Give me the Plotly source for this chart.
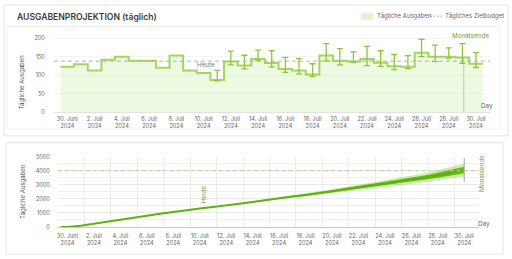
import plotly.graph_objects as go

# ---------------- data ----------------
days = list(range(31))  # 0 = 30. Juni ... 30 = 30. Juli
tick_days = list(range(0, 31, 2))
tick_labels = ["30. Juni<br>2024", "2. Juli<br>2024", "4. Juli<br>2024", "6. Juli<br>2024",
               "8. Juli<br>2024", "10. Juli<br>2024", "12. Juli<br>2024", "14. Juli<br>2024",
               "16. Juli<br>2024", "18. Juli<br>2024", "20. Juli<br>2024", "22. Juli<br>2024",
               "24. Juli<br>2024", "26. Juli<br>2024", "28. Juli<br>2024", "30. Juli<br>2024"]

daily = [123, 130, 113, 142, 150, 139, 139, 120, 153, 113, 106, 87, 137, 126, 144, 133,
         117, 113, 102, 153, 139, 137, 144, 134, 124, 123, 161, 150, 150, 148, 131]

err_start = 11
err_hi = [113, 165, 154, 168, 166, 148, 145, 131, 185, 172, 163, 178, 166, 156, 153,
          197, 181, 174, 185, 161]
err_lo = [85, 128, 117, 140, 122, 108, 104, 97, 139, 128, 135, 126, 124, 115, 118,
          150, 137, 146, 132, 121]

daily_target = 138
month_target = 4000

cumulative = [0, 90, 240, 370, 510, 660, 800, 940, 1060, 1210, 1320, 1420, 1510, 1650,
              1780, 1920, 2050, 2170, 2280, 2390, 2540, 2680, 2820, 2960, 3090, 3220,
              3340, 3500, 3680, 3870, 4050]
band_start = 11
outer_half = [0, 10, 25, 40, 55, 70, 90, 110, 130, 150, 170, 190, 215, 240, 265, 290,
              320, 360, 410, 460]
inner_half = [0, 5, 12, 20, 28, 36, 45, 55, 65, 75, 85, 95, 108, 120, 132, 145, 160,
              180, 205, 230]
end_err_plus = 880
end_err_minus = 860

today_day = 10.2
month_end_day = 29.1

W, H = 512, 259
def px(x): return x / W
def py(y): return 1 - y / H

FONT = "Inter, Roboto, sans-serif"
GREEN_LINE = "#a3d65f"
GREEN_ERR = "#8cc63f"
GREEN_TXT = "#6e9e30"

fig = go.Figure()

# ---------------- top chart ----------------
step_x = [d - 0.5 for d in days] + [days[-1] + 0.5]
step_y = daily + [daily[-1]]
fig.add_trace(go.Scatter(x=[month_end_day, month_end_day], y=[0, daily[29]],
                         mode="lines", line=dict(color="#c4c4c4", width=1),
                         xaxis="x", yaxis="y", showlegend=False, hoverinfo="skip"))
fig.add_trace(go.Scatter(x=step_x, y=step_y, mode="lines", line_shape="hv",
                         line=dict(color=GREEN_LINE, width=2),
                         fill="tozeroy", fillcolor="rgba(170,225,110,0.2)",
                         xaxis="x", yaxis="y", showlegend=False))
ex = days[err_start:]
ey = daily[err_start:]
fig.add_trace(go.Scatter(x=ex, y=ey, mode="markers", marker=dict(size=1, opacity=0),
                         error_y=dict(type="data", symmetric=False,
                                      array=[h - v for h, v in zip(err_hi, ey)],
                                      arrayminus=[v - l for v, l in zip(ey, err_lo)],
                                      color=GREEN_ERR, thickness=1.3, width=3),
                         xaxis="x", yaxis="y", showlegend=False))

# ---------------- bottom chart ----------------
bx = days[band_start:]
bmid = cumulative[band_start:]
fig.add_trace(go.Scatter(x=bx, y=[m - w for m, w in zip(bmid, outer_half)], mode="lines",
                         line=dict(width=0), xaxis="x2", yaxis="y2", showlegend=False))
fig.add_trace(go.Scatter(x=bx, y=[m + w for m, w in zip(bmid, outer_half)], mode="lines",
                         line=dict(width=0), fill="tonexty",
                         fillcolor="rgba(140,215,60,0.45)",
                         xaxis="x2", yaxis="y2", showlegend=False))
fig.add_trace(go.Scatter(x=bx, y=[m - w for m, w in zip(bmid, inner_half)], mode="lines",
                         line=dict(width=0), xaxis="x2", yaxis="y2", showlegend=False))
fig.add_trace(go.Scatter(x=bx, y=[m + w for m, w in zip(bmid, inner_half)], mode="lines",
                         line=dict(width=0), fill="tonexty",
                         fillcolor="rgba(85,175,0,0.85)",
                         xaxis="x2", yaxis="y2", showlegend=False))
fig.add_trace(go.Scatter(x=[-0.5] + days, y=[0] + cumulative, mode="lines",
                         line=dict(color="#5fb010", width=2),
                         xaxis="x2", yaxis="y2", showlegend=False))
fig.add_trace(go.Scatter(x=[days[-1]], y=[cumulative[-1]], mode="markers",
                         marker=dict(size=1, opacity=0),
                         error_y=dict(type="data", symmetric=False, array=[end_err_plus],
                                      arrayminus=[end_err_minus], color="#b5b5b5",
                                      thickness=1.2, width=0),
                         xaxis="x2", yaxis="y2", showlegend=False))

axis_font = dict(family=FONT, size=5.6, color="#666")

fig.update_layout(
    width=W, height=H, margin=dict(l=0, r=0, t=0, b=0),
    paper_bgcolor="white", plot_bgcolor="rgba(0,0,0,0)",
    font=dict(family=FONT),
    showlegend=False,
    xaxis=dict(domain=[px(53), px(490)], range=[-0.99, 31.03], anchor="y",
               tickmode="array", tickvals=tick_days, ticktext=tick_labels, tickangle=0,
               tickfont=axis_font, showgrid=False, zeroline=False,
               showline=True, linecolor="#e2e2e2", ticks="", ticklabelstandoff=1),
    yaxis=dict(domain=[py(112), py(28)], range=[0, 221], dtick=50, anchor="x",
               tickfont=axis_font, showgrid=True, gridcolor="#f4f4f4", zeroline=False,
               showline=False, ticks="", ticklabelstandoff=8),
    xaxis2=dict(domain=[px(57), px(479)], range=[-0.72, 31.12], anchor="y2",
                tickmode="array", tickvals=tick_days, ticktext=tick_labels, tickangle=0,
                tickfont=axis_font, showgrid=False, zeroline=False,
                minor=dict(tick0=-0.72, dtick=2, showgrid=True, gridcolor="#ebebeb",
                           gridwidth=1),
                showline=True, linecolor="#c8c8c8", ticks="", ticklabelstandoff=3),
    yaxis2=dict(domain=[py(229.3), py(157.3)], range=[0, 5000], dtick=1000, anchor="x2",
                tickfont=axis_font, showgrid=True, gridcolor="#e8e8e8", zeroline=False,
                minor=dict(dtick=500, showgrid=True, gridcolor="#f0f0f0"),
                showline=False, ticks="", ticklabelstandoff=7),
)

shapes = [
    # cards
    dict(type="rect", xref="paper", yref="paper", x0=px(3), x1=px(508), y0=py(136), y1=py(2),
         line=dict(color="#e4e4e4", width=1), layer="below"),
    dict(type="rect", xref="paper", yref="paper", x0=px(6), x1=px(500), y0=py(129), y1=py(24),
         line=dict(color="#eeeeee", width=1), layer="below"),
    dict(type="rect", xref="paper", yref="paper", x0=px(5), x1=px(503), y0=py(257), y1=py(143),
         line=dict(color="#e4e4e4", width=1), layer="below"),
    # target lines
    dict(type="line", xref="x domain", yref="y", x0=0, x1=1, y0=daily_target, y1=daily_target,
         line=dict(color="#a9b98f", width=1, dash="4px,3px")),
    dict(type="line", xref="x2 domain", yref="y2", x0=0, x1=1, y0=month_target, y1=month_target,
         line=dict(color="#b7cc98", width=1, dash="4px,3px")),
    # legend swatches
    dict(type="rect", xref="paper", yref="paper", x0=px(361), x1=px(373), y0=py(17), y1=py(10),
         fillcolor="rgba(170,225,110,0.35)", line=dict(width=0)),
    dict(type="line", xref="paper", yref="paper", x0=px(430), x1=px(442), y0=py(13.5), y1=py(13.5),
         line=dict(color="#a9b98f", width=1, dash="2px,1.5px")),
]
fig.update_layout(shapes=shapes)

small = dict(family=FONT, size=6, color="#666")
ann = [
    dict(text="AUSGABENPROJEKTION (täglich)", xref="paper", yref="paper", x=px(14), y=py(14),
         xanchor="left", yanchor="middle", showarrow=False,
         font=dict(family=FONT, size=8.6, color="#3a3a3a", weight=600)),
    dict(text="Tägliche Ausgaben", xref="paper", yref="paper", x=px(375), y=py(13.5),
         xanchor="left", yanchor="middle", showarrow=False, font=small),
    dict(text="Tägliches Zielbudget", xref="paper", yref="paper", x=px(443), y=py(13.5),
         xanchor="left", yanchor="middle", showarrow=False, font=small),
    dict(text="Tägliche Ausgaben", xref="paper", yref="paper", x=px(21.5), y=py(81),
         textangle=-90, showarrow=False, xanchor="center", yanchor="middle",
         font=dict(family=FONT, size=6, color="#555")),
    dict(text="Tägliche Ausgaben", xref="paper", yref="paper", x=px(21.5), y=py(193),
         textangle=-90, showarrow=False, xanchor="center", yanchor="middle",
         font=dict(family=FONT, size=6, color="#555")),
    dict(text="Heute", xref="x", yref="y", x=today_day, y=128, showarrow=False,
         xanchor="center", yanchor="middle", font=dict(family=FONT, size=6.3, color="#777")),
    dict(text="Monatsende", xref="x", yref="y", x=29.6, y=205, showarrow=False,
         xanchor="center", yanchor="middle", font=dict(family=FONT, size=6.3, color=GREEN_TXT)),
    dict(text="Day", xref="paper", yref="paper", x=px(487), y=py(105.5), showarrow=False,
         xanchor="center", yanchor="middle", font=dict(family=FONT, size=6.3, color="#666")),
    dict(text="Heute", xref="x2", yref="y2", x=10.4, y=2310, textangle=-90, showarrow=False,
         xanchor="center", yanchor="middle", font=dict(family=FONT, size=6.3, color=GREEN_TXT)),
    dict(text="Monatsende", xref="paper", yref="paper", x=px(482), y=py(175), textangle=-90,
         showarrow=False, xanchor="center", yanchor="middle",
         font=dict(family=FONT, size=6.3, color=GREEN_TXT)),
    dict(text="Day", xref="paper", yref="paper", x=px(484), y=py(226), showarrow=False,
         xanchor="center", yanchor="middle", font=dict(family=FONT, size=6.3, color="#666")),
]
fig.update_layout(annotations=ann)

fig.write_html("out.html")
